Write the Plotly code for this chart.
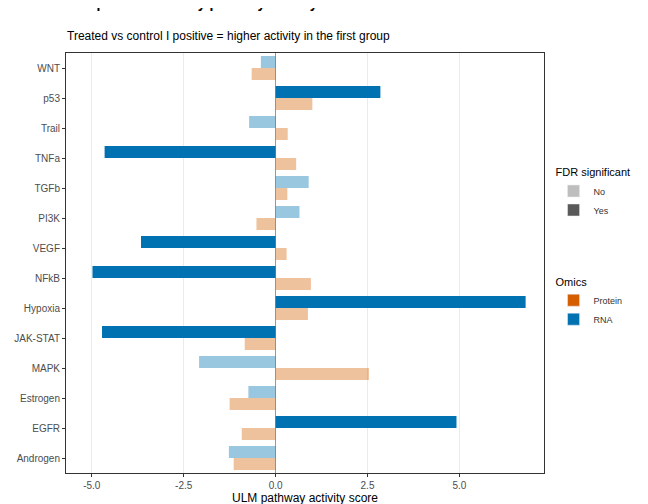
import plotly.graph_objects as go

pathways = ["WNT","p53","Trail","TNFa","TGFb","PI3K","VEGF","NFkB","Hypoxia","JAK-STAT","MAPK","Estrogen","EGFR","Androgen"]
rna = [-0.4,2.85,-0.72,-4.65,0.9,0.65,-3.66,-4.98,6.8,-4.72,-2.08,-0.74,4.92,-1.27]
rna_sig = [False,True,False,True,False,False,True,True,True,True,False,False,True,False]
protein = [-0.65,1.0,0.33,0.56,0.32,-0.52,0.3,0.96,0.88,-0.84,2.54,-1.25,-0.92,-1.14]
protein_sig = [False]*14

RNA_C = "#0072B2"; RNA_L = "rgba(0,114,178,0.4)"
PRO_C = "#D55E00"; PRO_L = "rgba(213,94,0,0.38)"

fig = go.Figure()
fig.add_trace(go.Bar(y=pathways, x=rna, orientation="h", name="RNA",
    marker=dict(color=[RNA_C if s else RNA_L for s in rna_sig], line_width=0), showlegend=False))
fig.add_trace(go.Bar(y=pathways, x=protein, orientation="h", name="Protein",
    marker=dict(color=[PRO_C if s else PRO_L for s in protein_sig], line_width=0), showlegend=False))

for nm, col in [("No", "#BEBEBE"), ("Yes", "#595959")]:
    fig.add_trace(go.Bar(x=[None], y=[None], name=nm, marker_color=col, legend="legend"))
for nm, col in [("Protein", PRO_C), ("RNA", RNA_C)]:
    fig.add_trace(go.Bar(x=[None], y=[None], name=nm, marker_color=col, legend="legend2"))

fig.update_layout(
    width=648, height=504, plot_bgcolor="white", paper_bgcolor="white",
    margin=dict(l=58, r=112, t=45, b=39, autoexpand=False),
    barmode="group", bargap=0.2, bargroupgap=0.0,
    font=dict(family="Liberation Sans, Arial", size=11, color="#333333"),
    xaxis=dict(range=[-5.7, 7.3], tickvals=[-5,-2.5,0,2.5,5], ticktext=["-5.0","-2.5","0.0","2.5","5.0"],
               automargin=False,
               showgrid=True, gridcolor="#EBEBEB", zeroline=True, zerolinecolor="#999999", zerolinewidth=1,
               showline=True, linecolor="#333333", mirror=True, ticks="outside", ticklen=3, tickcolor="#333333",
               title=dict(text="ULM pathway activity score", font=dict(size=12, color="black"), standoff=2),
               tickfont=dict(size=10, color="#4D4D4D")),
    yaxis=dict(autorange="reversed", automargin=False, showgrid=False, showline=True, linecolor="#333333", mirror=True,
               ticks="outside", ticklen=3, tickcolor="#333333", tickfont=dict(size=10, color="#4D4D4D")),
    legend=dict(title=dict(text="FDR significant", font=dict(size=11, color="black")), x=1.02, y=0.74,
                xanchor="left", yanchor="top", font=dict(size=9), itemwidth=30, tracegroupgap=0),
    legend2=dict(title=dict(text="Omics", font=dict(size=11, color="black")), x=1.02, y=0.48,
                 xanchor="left", yanchor="top", font=dict(size=9), itemwidth=30),
    annotations=[
        dict(text="<b>Sample 1: PROGENy pathway activity</b>", xref="paper", yref="paper", x=-0.002, y=1.095,
             xanchor="left", yanchor="bottom", showarrow=False, font=dict(size=14, color="black")),
        dict(text="Treated vs control I positive = higher activity in the first group", xref="paper", yref="paper",
             x=-0.002, y=1.02, xanchor="left", yanchor="bottom", showarrow=False, font=dict(size=12, color="black")),
    ],
)
fig.write_html("out.html")
